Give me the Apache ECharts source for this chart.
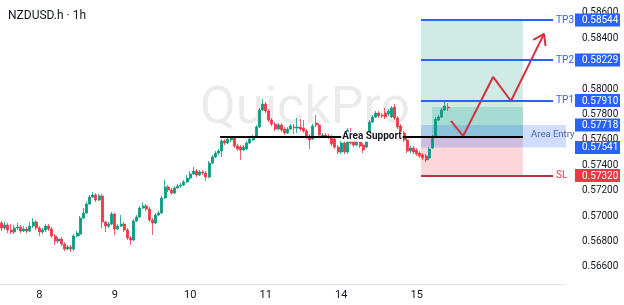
<!DOCTYPE html>
<html>
<head>
<meta charset="utf-8">
<script src="https://cdn.jsdelivr.net/npm/echarts@6/dist/echarts.min.js"></script>
<style>
html, body { margin: 0; padding: 0; background: #fff; }
#chart { width: 624px; height: 305px; }
</style>
</head>
<body>
<div id="chart"></div>
<script>
// hourly candles, NZDUSD.h
var openPx = [
  0.56946, 0.56907, 0.56930, 0.56891, 0.56875, 0.56907, 0.56915, 0.56883, 0.56899, 0.56883,
  0.56922, 0.56954, 0.56907, 0.56875, 0.56891, 0.56922, 0.56899, 0.56844, 0.56804, 0.56820,
  0.56781, 0.56741, 0.56757, 0.56741, 0.56844, 0.56859, 0.56985, 0.57025, 0.57096, 0.57151,
  0.57167, 0.57127, 0.57159, 0.56954, 0.56922, 0.56938, 0.57017, 0.56899, 0.56922, 0.56938,
  0.56891, 0.56828, 0.56812, 0.56962, 0.56993, 0.57064, 0.57080, 0.57056, 0.56970, 0.56946,
  0.57009, 0.57025, 0.57143, 0.57230, 0.57206, 0.57182, 0.57222, 0.57237, 0.57245, 0.57269,
  0.57300, 0.57332, 0.57355, 0.57324, 0.57348, 0.57340, 0.57308, 0.57418, 0.57466, 0.57497,
  0.57513, 0.57592, 0.57576, 0.57600, 0.57615, 0.57552, 0.57544, 0.57521, 0.57529, 0.57576,
  0.57600, 0.57623, 0.57702, 0.57836, 0.57883, 0.57828, 0.57757, 0.57726, 0.57686, 0.57718,
  0.57686, 0.57655, 0.57686, 0.57702, 0.57694, 0.57702, 0.57694, 0.57670, 0.57631, 0.57607,
  0.57733, 0.57718, 0.57631, 0.57639, 0.57631, 0.57623, 0.57607, 0.57544, 0.57505, 0.57576,
  0.57505, 0.57615, 0.57600, 0.57560, 0.57584, 0.57560, 0.57544, 0.57615, 0.57741, 0.57781,
  0.57812, 0.57796, 0.57812, 0.57804, 0.57781, 0.57859, 0.57773, 0.57710, 0.57655, 0.57600,
  0.57513, 0.57537, 0.57521, 0.57497, 0.57481, 0.57474, 0.57458, 0.57537, 0.57623, 0.57757,
  0.57781, 0.57836, 0.57859
];
var closePx = [
  0.56907, 0.56930, 0.56891, 0.56875, 0.56907, 0.56915, 0.56883, 0.56899, 0.56883, 0.56922,
  0.56954, 0.56907, 0.56875, 0.56891, 0.56922, 0.56899, 0.56844, 0.56804, 0.56820, 0.56781,
  0.56741, 0.56757, 0.56741, 0.56844, 0.56867, 0.56985, 0.57025, 0.57096, 0.57151, 0.57167,
  0.57127, 0.57159, 0.56954, 0.56922, 0.56938, 0.57017, 0.56899, 0.56922, 0.56938, 0.56891,
  0.56828, 0.56812, 0.56962, 0.56993, 0.57064, 0.57080, 0.57056, 0.56970, 0.56946, 0.57009,
  0.57025, 0.57143, 0.57230, 0.57206, 0.57182, 0.57222, 0.57237, 0.57245, 0.57269, 0.57300,
  0.57332, 0.57355, 0.57324, 0.57348, 0.57340, 0.57308, 0.57418, 0.57466, 0.57497, 0.57513,
  0.57592, 0.57576, 0.57607, 0.57615, 0.57552, 0.57529, 0.57521, 0.57544, 0.57576, 0.57607,
  0.57623, 0.57702, 0.57836, 0.57883, 0.57828, 0.57757, 0.57726, 0.57686, 0.57718, 0.57678,
  0.57655, 0.57686, 0.57710, 0.57694, 0.57702, 0.57686, 0.57670, 0.57623, 0.57600, 0.57710,
  0.57718, 0.57639, 0.57639, 0.57631, 0.57623, 0.57568, 0.57544, 0.57505, 0.57576, 0.57505,
  0.57678, 0.57576, 0.57560, 0.57592, 0.57552, 0.57521, 0.57615, 0.57741, 0.57781, 0.57812,
  0.57789, 0.57789, 0.57781, 0.57828, 0.57852, 0.57773, 0.57702, 0.57655, 0.57600, 0.57513,
  0.57537, 0.57505, 0.57489, 0.57474, 0.57458, 0.57442, 0.57529, 0.57623, 0.57765, 0.57781,
  0.57836, 0.57867, 0.57852
];
var lowPx = [
  0.56883, 0.56891, 0.56867, 0.56859, 0.56859, 0.56891, 0.56867, 0.56875, 0.56867, 0.56875,
  0.56907, 0.56891, 0.56844, 0.56859, 0.56875, 0.56883, 0.56828, 0.56773, 0.56789, 0.56765,
  0.56726, 0.56733, 0.56718, 0.56726, 0.56836, 0.56844, 0.56978, 0.57017, 0.57088, 0.57143,
  0.57111, 0.57119, 0.56907, 0.56875, 0.56907, 0.56930, 0.56852, 0.56891, 0.56915, 0.56875,
  0.56812, 0.56773, 0.56804, 0.56954, 0.56985, 0.57056, 0.57041, 0.56954, 0.56852, 0.56938,
  0.57001, 0.57017, 0.57135, 0.57190, 0.57167, 0.57174, 0.57214, 0.57222, 0.57237, 0.57261,
  0.57285, 0.57324, 0.57308, 0.57316, 0.57324, 0.57277, 0.57300, 0.57411, 0.57458, 0.57481,
  0.57466, 0.57560, 0.57568, 0.57584, 0.57537, 0.57513, 0.57442, 0.57513, 0.57521, 0.57568,
  0.57592, 0.57615, 0.57694, 0.57828, 0.57812, 0.57741, 0.57710, 0.57670, 0.57678, 0.57663,
  0.57639, 0.57647, 0.57678, 0.57647, 0.57655, 0.57670, 0.57655, 0.57607, 0.57529, 0.57600,
  0.57702, 0.57623, 0.57615, 0.57615, 0.57607, 0.57552, 0.57529, 0.57489, 0.57489, 0.57489,
  0.57489, 0.57560, 0.57544, 0.57552, 0.57537, 0.57497, 0.57537, 0.57607, 0.57733, 0.57773,
  0.57773, 0.57773, 0.57765, 0.57789, 0.57773, 0.57757, 0.57686, 0.57639, 0.57584, 0.57497,
  0.57497, 0.57489, 0.57474, 0.57458, 0.57442, 0.57426, 0.57442, 0.57529, 0.57615, 0.57749,
  0.57773, 0.57828, 0.57828
];
var highPx = [
  0.56962, 0.56954, 0.56946, 0.56938, 0.56930, 0.56946, 0.56930, 0.56922, 0.56915, 0.56954,
  0.56985, 0.56970, 0.56922, 0.56907, 0.56938, 0.56938, 0.56915, 0.56859, 0.56836, 0.56836,
  0.56796, 0.56773, 0.56773, 0.56859, 0.56883, 0.57001, 0.57064, 0.57111, 0.57167, 0.57190,
  0.57182, 0.57174, 0.57174, 0.56962, 0.56954, 0.57033, 0.57025, 0.56938, 0.57009, 0.56954,
  0.56907, 0.56844, 0.56978, 0.57009, 0.57080, 0.57111, 0.57096, 0.57072, 0.56985, 0.57025,
  0.57041, 0.57159, 0.57285, 0.57245, 0.57222, 0.57237, 0.57253, 0.57261, 0.57285, 0.57324,
  0.57355, 0.57387, 0.57371, 0.57363, 0.57363, 0.57355, 0.57434, 0.57481, 0.57513, 0.57529,
  0.57607, 0.57607, 0.57623, 0.57631, 0.57623, 0.57568, 0.57560, 0.57560, 0.57592, 0.57623,
  0.57639, 0.57718, 0.57852, 0.57922, 0.57899, 0.57844, 0.57773, 0.57741, 0.57733, 0.57733,
  0.57702, 0.57702, 0.57726, 0.57726, 0.57773, 0.57765, 0.57757, 0.57686, 0.57647, 0.57726,
  0.57796, 0.57733, 0.57655, 0.57655, 0.57647, 0.57639, 0.57623, 0.57560, 0.57592, 0.57592,
  0.57694, 0.57694, 0.57615, 0.57607, 0.57600, 0.57576, 0.57631, 0.57757, 0.57796, 0.57828,
  0.57828, 0.57812, 0.57852, 0.57844, 0.57867, 0.57883, 0.57789, 0.57726, 0.57670, 0.57615,
  0.57552, 0.57552, 0.57537, 0.57513, 0.57497, 0.57489, 0.57544, 0.57639, 0.57781, 0.57796,
  0.57852, 0.57899, 0.57891
];

// x axis: trading days, day 7 starts at 12:00
var days = [7, 8, 9, 10, 11, 14, 15, 16];
var firstHour = 12;
var labelDays = ['8', '9', '10', '11', '14', '15'];

// price scale labels
var priceTicks = [0.566, 0.568, 0.570, 0.572, 0.574, 0.576, 0.578, 0.580, 0.582, 0.584, 0.586];

// trade plan levels
var tp3 = 0.58544, tp2 = 0.58229, tp1 = 0.57910;
var entryTop = 0.57718, entryBottom = 0.57541;
var stopLoss = 0.57320;
var supportLevel = 0.57625;
var lastPrice = 0.57859;
var levelBoxes = [tp3, tp2, tp1, entryTop, entryBottom, stopLoss];

// drawing positions on the hidden hour axis (0..180)
var zoneStart = 133.9, zoneEnd = 166.3, lineEnd = 175.9, pnlStart = 137.4;
var supportStart = 70.0;
var arrowX = [143.4, 147.3, 156.8, 162.5, 173.0];
var arrowY = [0.57750, 0.57631, 0.58096, 0.57907, 0.58435];
var headX = [169.6, 173.0, 173.5];
var headY = [0.58388, 0.58435, 0.58339];

var cats = [];
days.forEach(function (d, k) {
  for (var h = (k === 0 ? firstHour : 0); h < 24; h++) {
    cats.push(d + ' ' + (h < 10 ? '0' + h : h) + ':00');
  }
});

var candleData = openPx.map(function (o, i) {
  return [o, closePx[i], lowPx[i], highPx[i]];
});
var arrowData = arrowX.map(function (x, i) { return [x, arrowY[i]]; });
var headData = headX.map(function (x, i) { return [x, headY[i]]; });

var BLUE = '#2962ff', RED = '#f23645', GREEN = '#089981';

function level(y, color, text, textColor) {
  return [
    { coord: [zoneStart, y], lineStyle: { color: color, width: 2, type: 'solid' },
      label: { show: true, position: 'end', distance: 3, formatter: text, color: textColor, fontSize: 10 } },
    { coord: [lineEnd, y] }
  ];
}

var chartDom = document.getElementById('chart');
var myChart = echarts.init(chartDom);
var option = {
  animation: false,
  backgroundColor: '#ffffff',
  textStyle: { fontFamily: 'Roboto' },
  title: {
    text: 'NZDUSD.h · 1h',
    left: 3, top: 5,
    textStyle: { fontSize: 12, fontWeight: 'normal', color: '#131722', fontFamily: 'Roboto' }
  },
  graphic: [{
    type: 'text', left: 200, top: 84, z: -10, silent: true,
    style: { text: 'QuickPro', fontSize: 52, fontFamily: 'Roboto', fill: 'rgba(0,0,0,0.08)' }
  }],
  grid: { left: 0, right: 58, top: 0, bottom: 21 },
  xAxis: [
    {
      type: 'category',
      data: cats,
      boundaryGap: true,
      axisLine: { lineStyle: { color: '#e0e3eb' } },
      axisTick: { show: false },
      splitLine: { show: false },
      axisLabel: {
        color: '#131722', fontSize: 11, margin: 6,
        interval: function (idx, val) {
          var p = val.split(' ');
          return p[1] === '00:00' && labelDays.indexOf(p[0]) >= 0;
        },
        formatter: function (val) { return val.split(' ')[0]; }
      }
    },
    { type: 'value', min: 0, max: 180, show: false }
  ],
  yAxis: [
    {
      type: 'value', position: 'right',
      min: 0.56466, max: 0.58702,
      axisLine: { show: false }, axisTick: { show: false }, splitLine: { show: false },
      axisLabel: {
        customValues: priceTicks,
        formatter: function (v) { return v.toFixed(5); },
        color: '#131722', fontSize: 10, margin: 16
      }
    },
    {
      type: 'value', position: 'right',
      min: 0.56466, max: 0.58702,
      axisLine: { show: false }, axisTick: { show: false }, splitLine: { show: false },
      axisLabel: {
        customValues: levelBoxes,
        margin: 9,
        formatter: function (v) { return (v < 0.574 ? '{r|' : '{b|') + v.toFixed(5) + '}'; },
        rich: {
          b: { backgroundColor: BLUE, color: '#fff', fontSize: 10, padding: [2, 3, 1, 7], width: 35 },
          r: { backgroundColor: RED, color: '#fff', fontSize: 10, padding: [2, 3, 1, 7], width: 35 }
        }
      }
    }
  ],
  series: [
    {
      name: 'zones', type: 'line', xAxisIndex: 1, yAxisIndex: 0, data: [], z: 1, silent: true,
      markArea: {
        silent: true,
        data: [
          [{ coord: [zoneStart, tp3], itemStyle: { color: 'rgba(8,153,129,0.2)' } }, { coord: [zoneEnd, supportLevel] }],
          [{ coord: [zoneStart, supportLevel], itemStyle: { color: 'rgba(242,54,69,0.2)' } }, { coord: [zoneEnd, stopLoss] }],
          [{ coord: [pnlStart, lastPrice], itemStyle: { color: 'rgba(8,153,129,0.2)' } }, { coord: [zoneEnd, supportLevel] }],
          [{ coord: [zoneStart, entryTop], itemStyle: { color: 'rgba(41,98,255,0.22)' } }, { coord: [180, entryBottom] }]
        ]
      }
    },
    {
      name: 'NZDUSD.h', type: 'candlestick', data: candleData, z: 2,
      barWidth: 2.5,
      itemStyle: { color: GREEN, color0: RED, borderColor: GREEN, borderColor0: RED, borderWidth: 0.8 }
    },
    {
      name: 'path', type: 'line', xAxisIndex: 1, yAxisIndex: 0, data: arrowData, z: 4,
      symbol: 'none', silent: true,
      lineStyle: { color: '#d9303e', width: 2 },
      markLine: {
        symbol: 'none', silent: true,
        data: [
          level(tp3, BLUE, 'TP3', BLUE),
          level(tp2, BLUE, 'TP2', BLUE),
          level(tp1, BLUE, 'TP1', BLUE),
          level(stopLoss, '#c62f3c', 'SL', RED),
          [
            { coord: [supportStart, supportLevel], lineStyle: { color: '#000', width: 2, type: 'solid' }, label: { show: false } },
            { coord: [zoneEnd, supportLevel] }
          ]
        ]
      },
      markPoint: {
        silent: true,
        symbol: 'rect', symbolSize: 1,
        itemStyle: { color: 'rgba(0,0,0,0)' },
        data: [
          { coord: [118.3, supportLevel], label: { show: true, position: 'inside', formatter: 'Area Support',
            color: '#131722', fontWeight: 'bold', fontSize: 10, backgroundColor: '#fff', padding: [0, 1] } },
          { coord: [175.8, 0.57639], label: { show: true, position: 'inside', formatter: 'Area Entry',
            color: '#4a68a8', fontSize: 9.5 } }
        ]
      }
    },
    {
      name: 'head', type: 'line', xAxisIndex: 1, yAxisIndex: 0, data: headData, z: 4,
      symbol: 'none', silent: true,
      lineStyle: { color: '#d9303e', width: 2 }
    }
  ]
};
option && myChart.setOption(option);
</script>
</body>
</html>
